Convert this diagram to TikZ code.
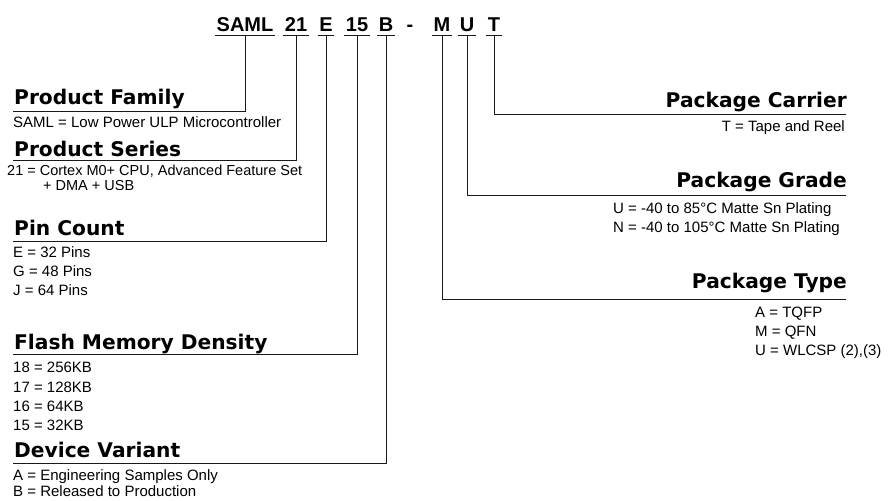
\documentclass[tikz,border=0pt]{standalone}
\usepackage{fontspec}
\setmainfont{Liberation Sans}
\newfontfamily\headfont{DejaVu Sans}

\begin{document}
\begin{tikzpicture}[x=1pt,y=-1pt]
  \tikzset{code/.style={font=\bfseries\fontsize{20}{22}\selectfont, anchor=base,
      inner xsep=1.5pt, inner ysep=3pt, text height=14.5pt, text depth=0pt}}
  \tikzset{head/.style={font=\headfont\bfseries\fontsize{20.2}{22}\selectfont, inner sep=0pt}}
  \tikzset{desc/.style={font=\fontsize{15}{18}\selectfont, inner sep=0pt}}
  \tikzset{link/.style={draw=black!90, line width=1pt}}
  \useasboundingbox (0,0) rectangle (890,500);

% part number
  \node[code] (saml) at (245,32) {SAML};
  \node[code] (ser)  at (296,32) {21};
  \node[code] (pin)  at (326,32) {E};
  \node[code] (mem)  at (357,32) {15};
  \node[code] (var)  at (386,32) {B};
  \node[code] (dash) at (410,32) {-};
  \node[code] (typ)  at (442,32) {M};
  \node[code] (grd)  at (467,32) {U};
  \node[code] (car)  at (494,32) {T};
  \foreach \n in {saml,ser,pin,mem,var,typ,grd,car}
    \draw[link] (\n.south west) -- (\n.south east);

% left side
  \node[head, anchor=base west] (famH) at (14,105) {Product Family};
  \coordinate (famL) at (13,111);
  \node[desc, anchor=base west] (famD) at (13,128) {SAML = Low Power ULP Microcontroller};

  \node[head, anchor=base west] (serH) at (14,156) {Product Series};
  \coordinate (serL) at (13,160);
  \node[desc, font=\fontsize{14.5}{16}\selectfont, anchor=base west] (serD1) at (7,175) {21 = Cortex M0+ CPU, Advanced Feature Set};
  \node[desc, font=\fontsize{14.5}{16}\selectfont, anchor=base west] (serD2) at (43,190) {+ DMA + USB};

  \node[head, anchor=base west] (pinH) at (14,235) {Pin Count};
  \coordinate (pinL) at (13,241);
  \foreach \t [count=\i] in {E = 32 Pins, G = 48 Pins, J = 64 Pins}
    \node[desc, anchor=base west] (pinD\i) at (13,238+19*\i) {\t};

  \node[head, anchor=base west] (memH) at (14,349) {Flash Memory Density};
  \coordinate (memL) at (13,354);
  \foreach \t [count=\i] in {18 = 256KB, 17 = 128KB, 16 = 64KB, 15 = 32KB}
    \node[desc, anchor=base west] (memD\i) at (13,353.5+19.3*\i) {\t};

  \node[head, anchor=base west] (varH) at (14,457) {Device Variant};
  \coordinate (varL) at (13,463);
  \node[desc, anchor=base west] (varD1) at (13,480) {A = Engineering Samples Only};
  \node[desc, anchor=base west] (varD2) at (13,496) {B = Released to Production};

% right side
  \node[head, anchor=base east] (carH) at (847,107) {Package Carrier};
  \coordinate (carL) at (846,114);
  \node[desc, anchor=base east] (carD) at (845,131) {T = Tape and Reel};

  \node[head, anchor=base east] (grdH) at (847,187) {Package Grade};
  \coordinate (grdL) at (846,195);
  \node[desc, anchor=base west] (grdD1) at (613,213) {U = -40 to 85°C Matte Sn Plating};
  \node[desc, anchor=base west] (grdD2) at (613,232) {N = -40 to 105°C Matte Sn Plating};

  \node[head, anchor=base east] (typH) at (847,288) {Package Type};
  \coordinate (typL) at (846,299);
  \node[desc, anchor=base west] (typD1) at (755,317) {A = TQFP};
  \node[desc, anchor=base west] (typD2) at (755,336) {M = QFN};
  \node[desc, anchor=base west] (typD3) at (755,355) {U = WLCSP (2),(3)};

% connectors
  \draw[link] (saml.south) |- (famL);
  \draw[link] (ser.south) |- (serL);
  \draw[link] (pin.south) |- (pinL);
  \draw[link] (mem.south) |- (memL);
  \draw[link] (var.south) |- (varL);
  \draw[link] (typ.south) |- (typL);
  \draw[link] (grd.south) |- (grdL);
  \draw[link] (car.south) |- (carL);
\end{tikzpicture}
\end{document}
